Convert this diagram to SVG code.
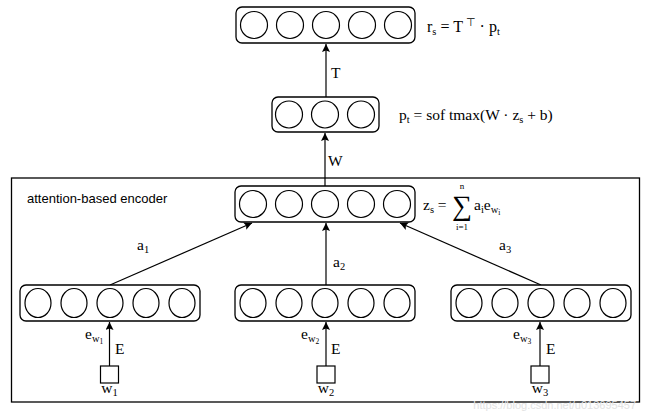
<svg xmlns="http://www.w3.org/2000/svg" width="650" height="414" viewBox="0 0 650 414">
<defs>
<marker id="ah" viewBox="0 0 10 10" refX="10" refY="5" markerWidth="8" markerHeight="8" markerUnits="userSpaceOnUse" orient="auto">
<path d="M0,0 L10,5 L0,10 L2,5 z" fill="#000"/>
</marker>
<style>
.box{fill:#fff;stroke:#000;stroke-width:1.3}
.c{fill:#fff;stroke:#000;stroke-width:1.2}
.sq{fill:#fff;stroke:#000;stroke-width:1.2}
.ln{stroke:#000;stroke-width:1.2;fill:none;marker-end:url(#ah)}
.m{font-family:"Liberation Serif","Times New Roman",serif;font-size:15.5px;fill:#000}
.s{font-size:10.5px}
.ss{font-size:7.5px}
.sans{font-family:"Liberation Sans",Arial,sans-serif;font-size:13px;fill:#000}
</style>
</defs>
<rect x="0" y="0" width="650" height="414" fill="#fff"/>

<g id="encoder">
<rect x="11.5" y="178" width="628" height="224" fill="none" stroke="#000" stroke-width="1.3"/>
<text class="sans" x="27" y="203">attention-based encoder</text>
</g>

<g id="connectors">
<line class="ln" x1="326" y1="97" x2="326" y2="44"/>
<line class="ln" x1="325" y1="186" x2="325" y2="133"/>
<line class="ln" x1="110" y1="285" x2="252" y2="223"/>
<line class="ln" x1="326" y1="285" x2="326" y2="223"/>
<line class="ln" x1="541" y1="285" x2="400" y2="223"/>
<line class="ln" x1="109.5" y1="366" x2="109.5" y2="322"/>
<line class="ln" x1="326" y1="366" x2="326" y2="322"/>
<line class="ln" x1="540" y1="366" x2="540" y2="322"/>
<text class="m" x="331" y="78">T</text>
<text class="m" x="328" y="166">W</text>
<text class="m" x="137" y="250">a<tspan class="s" dy="3">1</tspan></text>
<text class="m" x="333" y="267">a<tspan class="s" dy="3">2</tspan></text>
<text class="m" x="499" y="250">a<tspan class="s" dy="3">3</tspan></text>
<text class="m" x="85" y="339">e<tspan class="s" dy="3">w</tspan><tspan class="ss" dy="2">1</tspan></text>
<text class="m" x="115" y="354">E</text>
<text class="m" x="301" y="339">e<tspan class="s" dy="3">w</tspan><tspan class="ss" dy="2">2</tspan></text>
<text class="m" x="331" y="354">E</text>
<text class="m" x="513" y="339">e<tspan class="s" dy="3">w</tspan><tspan class="ss" dy="2">3</tspan></text>
<text class="m" x="546" y="354">E</text>
</g>

<g id="top">
<rect class="box" x="236" y="7" width="179" height="36" rx="6"/>
<circle class="c" cx="254" cy="25" r="13.5"/>
<circle class="c" cx="290" cy="25" r="13.5"/>
<circle class="c" cx="326" cy="25" r="13.5"/>
<circle class="c" cx="362" cy="25" r="13.5"/>
<circle class="c" cx="398" cy="25" r="13.5"/>
<text class="m" x="427" y="32" style="font-size:16px">r<tspan class="s" dy="3">s</tspan><tspan dy="-3"> = T</tspan><tspan class="s" dy="-6"> ⊤</tspan><tspan dy="6"> · p</tspan><tspan class="s" dy="3">t</tspan></text>
</g>

<g id="middle">
<rect class="box" x="272" y="97" width="107" height="35" rx="6"/>
<circle class="c" cx="289" cy="114.5" r="13.5"/>
<circle class="c" cx="325" cy="114.5" r="13.5"/>
<circle class="c" cx="361" cy="114.5" r="13.5"/>
<text class="m" x="399" y="120">p<tspan class="s" dy="3">t</tspan><tspan dy="-3"> = sof tmax(W · z</tspan><tspan class="s" dy="3">s</tspan><tspan dy="-3"> + b)</tspan></text>
</g>

<g id="zs">
<rect class="box" x="235" y="186" width="180" height="36" rx="6"/>
<circle class="c" cx="253" cy="204" r="13.5"/>
<circle class="c" cx="289" cy="204" r="13.5"/>
<circle class="c" cx="325" cy="204" r="13.5"/>
<circle class="c" cx="361" cy="204" r="13.5"/>
<circle class="c" cx="397" cy="204" r="13.5"/>
<text class="m" x="423" y="210">z<tspan class="s" dy="3">s</tspan><tspan dy="-3"> =</tspan></text>
<text class="m" x="462" y="215" text-anchor="middle" style="font-size:28px">∑</text>
<text class="m" x="462" y="189" text-anchor="middle" style="font-size:9px">n</text>
<text class="m" x="462" y="230" text-anchor="middle" style="font-size:9px">i=1</text>
<text class="m" x="474" y="210">a<tspan class="s" dy="3">i</tspan><tspan dy="-3">e</tspan><tspan class="s" dy="3">w</tspan><tspan class="ss" dy="2">i</tspan></text>
</g>

<g id="h1">
<rect class="box" x="20" y="285" width="180" height="36" rx="6"/>
<ellipse class="c" cx="38" cy="303" rx="13" ry="14.5"/>
<ellipse class="c" cx="74" cy="303" rx="13" ry="14.5"/>
<ellipse class="c" cx="110" cy="303" rx="13" ry="14.5"/>
<ellipse class="c" cx="146" cy="303" rx="13" ry="14.5"/>
<ellipse class="c" cx="182" cy="303" rx="13" ry="14.5"/>
</g>
<g id="h2">
<rect class="box" x="235" y="285" width="180" height="36" rx="6"/>
<ellipse class="c" cx="253" cy="303" rx="13" ry="14.5"/>
<ellipse class="c" cx="289" cy="303" rx="13" ry="14.5"/>
<ellipse class="c" cx="325" cy="303" rx="13" ry="14.5"/>
<ellipse class="c" cx="361" cy="303" rx="13" ry="14.5"/>
<ellipse class="c" cx="397" cy="303" rx="13" ry="14.5"/>
</g>
<g id="h3">
<rect class="box" x="451" y="285" width="180" height="36" rx="6"/>
<ellipse class="c" cx="469" cy="303" rx="13" ry="14.5"/>
<ellipse class="c" cx="505" cy="303" rx="13" ry="14.5"/>
<ellipse class="c" cx="541" cy="303" rx="13" ry="14.5"/>
<ellipse class="c" cx="577" cy="303" rx="13" ry="14.5"/>
<ellipse class="c" cx="613" cy="303" rx="13" ry="14.5"/>
</g>

<g id="w1">
<rect class="sq" x="100.5" y="366" width="18" height="17"/>
<text class="m" x="109.5" y="393" text-anchor="middle">w<tspan class="s" dy="3">1</tspan></text>
</g>
<g id="w2">
<rect class="sq" x="317" y="366" width="18" height="17"/>
<text class="m" x="326" y="393" text-anchor="middle">w<tspan class="s" dy="3">2</tspan></text>
</g>
<g id="w3">
<rect class="sq" x="531" y="366" width="18" height="17"/>
<text class="m" x="540" y="393" text-anchor="middle">w<tspan class="s" dy="3">3</tspan></text>
</g>

<text x="636" y="409" text-anchor="end" style="font-family:'Liberation Sans',Arial,sans-serif;font-size:11px;fill:#e2e2e2">https://blog.csdn.net/u013695457</text>
</svg>
